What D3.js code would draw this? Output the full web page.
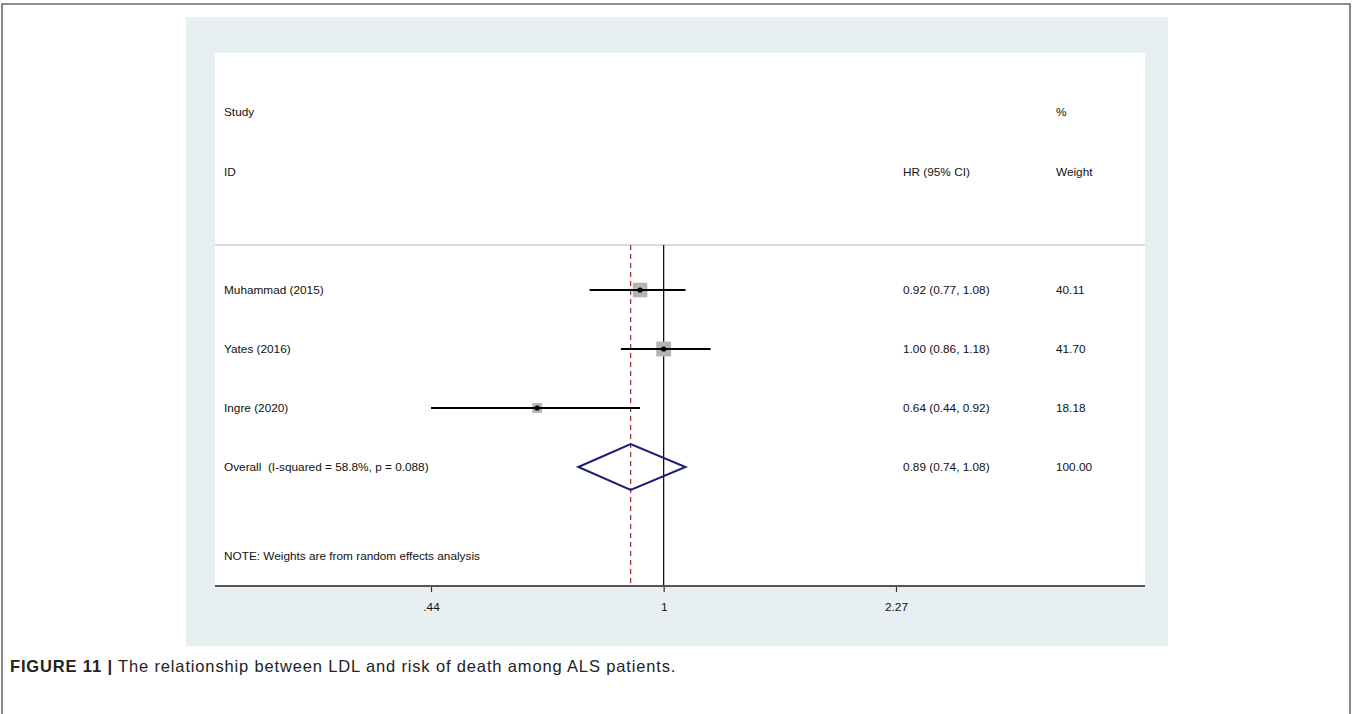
<!DOCTYPE html>
<html>
<head>
<meta charset="utf-8">
<script src="https://cdn.jsdelivr.net/npm/d3@7"></script>
<style>
html,body{margin:0;padding:0;background:#fff;}
svg{display:block;}
</style>
</head>
<body>
<svg id="chart" width="1352" height="714"></svg>
<script>
// ---- data ----
const studies = ["Muhammad (2015)", "Yates (2016)", "Ingre (2020)"];
const hr = [0.92, 1.00, 0.64];
const lower = [0.77, 0.86, 0.44];
const upper = [1.08, 1.18, 0.92];
const weights = [40.11, 41.70, 18.18];
const hrText = ["0.92 (0.77, 1.08)", "1.00 (0.86, 1.18)", "0.64 (0.44, 0.92)"];
const weightText = ["40.11", "41.70", "18.18"];
const overallLabel = "Overall  (I-squared = 58.8%, p = 0.088)";
const overallHR = 0.89, overallLower = 0.74, overallUpper = 1.08;
const overallHRText = "0.89 (0.74, 1.08)";
const overallWeightText = "100.00";
const tickValues = [0.44, 1, 2.27];
const tickLabels = [".44", "1", "2.27"];
const headerLeft = ["Study", "ID"];
const headerHR = "HR (95% CI)";
const headerWeight = ["%", "Weight"];
const noteText = "NOTE: Weights are from random effects analysis";
const captionBold = "FIGURE 11 |";
const captionText = " The relationship between LDL and risk of death among ALS patients.";

// ---- layout ----
const svg = d3.select("#chart");
const font = "'Liberation Sans', Arial, sans-serif";
const panel = {x: 186, y: 17, w: 982, h: 629};
const plot = {x: 215, y: 53, w: 930, h: 533};
const axisY = 586, sepY = 245;
const colHR = 903, colW = 1056;

// outer frame
svg.append("path")
  .attr("d", "M2,714 L2,4 L1350,4 L1350,714")
  .attr("fill", "none").attr("stroke", "#6b6b6b").attr("stroke-width", 1.6);

svg.append("rect").attr("x", panel.x).attr("y", panel.y).attr("width", panel.w).attr("height", panel.h).attr("fill", "#e8eff2");
svg.append("rect").attr("x", plot.x).attr("y", plot.y).attr("width", plot.w).attr("height", plot.h).attr("fill", "#ffffff");

const x = d3.scaleLog().domain([0.44, 2.27]).range([431, 896]);
const rowKeys = studies.concat(["Overall"]);
const y = d3.scalePoint().domain(rowKeys).range([290, 467]);

const txt = (sel) => sel.attr("font-family", font).attr("font-size", 11.8).attr("fill", "#111").attr("dominant-baseline", "central");

// header
const g = svg.append("g");
g.append("text").attr("x", 224).attr("y", 112).text(headerLeft[0]).call(txt);
g.append("text").attr("x", 224).attr("y", 172).text(headerLeft[1]).call(txt);
g.append("text").attr("x", colHR).attr("y", 172).text(headerHR).call(txt);
g.append("text").attr("x", colW).attr("y", 112).text(headerWeight[0]).call(txt);
g.append("text").attr("x", colW).attr("y", 172).text(headerWeight[1]).call(txt);

// separator
g.append("line").attr("x1", plot.x).attr("x2", plot.x + plot.w).attr("y1", sepY).attr("y2", sepY)
  .attr("stroke", "#cfcfcf").attr("stroke-width", 1.5);

// null line at 1
g.append("line").attr("x1", x(1)).attr("x2", x(1)).attr("y1", sepY).attr("y2", axisY)
  .attr("stroke", "#000").attr("stroke-width", 1.2);
// overall dashed line
g.append("line").attr("x1", x(overallHR)).attr("x2", x(overallHR)).attr("y1", sepY).attr("y2", axisY)
  .attr("stroke", "#a3282e").attr("stroke-width", 1.2).attr("stroke-dasharray", "5,4");

// studies
const k = 2.3;
studies.forEach((s, i) => {
  const cy = y(s);
  g.append("text").attr("x", 224).attr("y", cy).text(s).call(txt);
  const side = k * Math.sqrt(weights[i]);
  g.append("rect").attr("x", x(hr[i]) - side / 2).attr("y", cy - side / 2)
    .attr("width", side).attr("height", side).attr("fill", "#b4b4b4");
  g.append("line").attr("x1", x(lower[i])).attr("x2", x(upper[i])).attr("y1", cy).attr("y2", cy)
    .attr("stroke", "#000").attr("stroke-width", 2);
  g.append("circle").attr("cx", x(hr[i])).attr("cy", cy).attr("r", 2.6).attr("fill", "#000");
  g.append("text").attr("x", colHR).attr("y", cy).text(hrText[i]).call(txt);
  g.append("text").attr("x", colW).attr("y", cy).text(weightText[i]).call(txt);
});

// overall
const oy = y("Overall");
g.append("text").attr("x", 224).attr("y", oy).text(overallLabel).attr("xml:space", "preserve").style("white-space", "pre").call(txt);
const dh = 23;
g.append("path")
  .attr("d", `M${x(overallLower)},${oy} L${x(overallHR)},${oy - dh} L${x(overallUpper)},${oy} L${x(overallHR)},${oy + dh} Z`)
  .attr("fill", "none").attr("stroke", "#1c1c7a").attr("stroke-width", 2);
g.append("text").attr("x", colHR).attr("y", oy).text(overallHRText).call(txt);
g.append("text").attr("x", colW).attr("y", oy).text(overallWeightText).call(txt);

// note
g.append("text").attr("x", 224).attr("y", 556).text(noteText).call(txt);

// axis
const axis = d3.axisBottom(x).tickValues(tickValues).tickFormat((d, i) => tickLabels[i]).tickSize(6).tickPadding(11);
const ax = svg.append("g").attr("transform", `translate(0,${axisY})`).call(axis);
ax.select(".domain").remove();
ax.append("line").attr("x1", plot.x).attr("x2", plot.x + plot.w).attr("y1", 0).attr("y2", 0)
  .attr("stroke", "#555").attr("stroke-width", 2);
ax.selectAll(".tick line").attr("stroke", "#333").attr("stroke-width", 1.2);
ax.selectAll(".tick text").attr("font-family", font).attr("font-size", 11.8).attr("fill", "#111");

// caption
const cap = svg.append("text").attr("x", 10).attr("y", 672)
  .attr("font-family", "'Liberation Sans Narrow', 'Liberation Sans', Arial, sans-serif")
  .attr("font-size", 16.5).attr("letter-spacing", 0.85).attr("fill", "#222");
cap.append("tspan").attr("font-weight", "bold").text(captionBold);
cap.append("tspan").text(captionText);
</script>
</body>
</html>
